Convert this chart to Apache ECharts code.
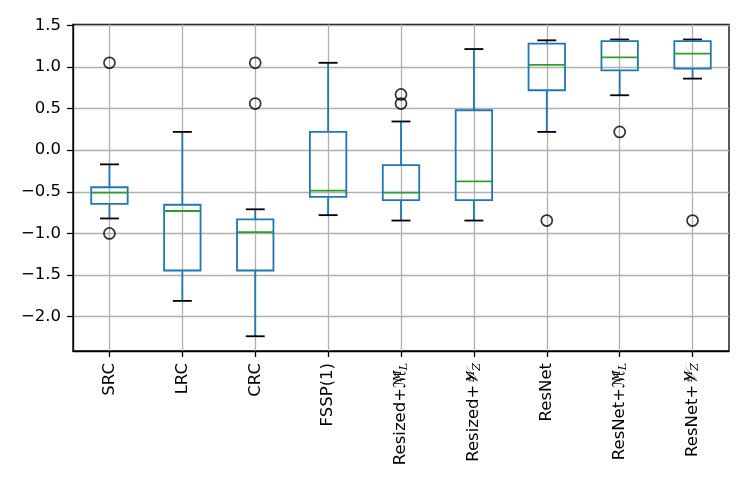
<!DOCTYPE html>
<html>
<head>
<meta charset="utf-8">
<script src="https://cdn.jsdelivr.net/npm/echarts@6/dist/echarts.min.js"></script>
<style>html,body{margin:0;padding:0;background:#fff}#c{width:747px;height:498px}</style>
</head>
<body>
<div id="c"></div>
<script>
const categories = ['SRC','LRC','CRC','FSSP(1)','Resized+ML','Resized+VZ','ResNet','ResNet+ML','ResNet+VZ'];
const tickLabels = ['SRC','LRC','CRC','FSSP(1)',
  'Resized+{s|ℳ}{sup|M}{sub|L}','Resized+{s|𝒱}{sup|M}{sub|Z}','ResNet',
  'ResNet+{s|ℳ}{sup|M}{sub|L}','ResNet+{s|𝒱}{sup|M}{sub|Z}'];
const whiskerLow  = [-0.82, -1.81, -2.235, -0.78, -0.845, -0.845, 0.22, 0.66, 0.86];
const q1          = [-0.645, -1.445, -1.445, -0.56, -0.60, -0.60, 0.72, 0.96, 0.98];
const median      = [-0.51, -0.73, -0.985, -0.485, -0.51, -0.375, 1.025, 1.115, 1.16];
const q3          = [-0.445, -0.655, -0.83, 0.22, -0.18, 0.48, 1.28, 1.31, 1.31];
const whiskerHigh = [-0.17, 0.22, -0.71, 1.05, 0.345, 1.215, 1.32, 1.33, 1.33];
const outlierCat  = [0, 0, 2, 2, 4, 4, 6, 7, 8];
const outlierVal  = [1.05, -1.0, 1.05, 0.56, 0.67, 0.56, -0.845, 0.22, -0.845];
const yTicks = [-2.0, -1.5, -1.0, -0.5, 0.0, 0.5, 1.0, 1.5];

const boxData = categories.map((c, i) => [i, whiskerLow[i], q1[i], median[i], q3[i], whiskerHigh[i]]);
const outlierData = outlierCat.map((c, i) => [c, outlierVal[i]]);

const BLUE = '#1f77b4', GREEN = '#2ca02c', LW = 1.8;
const chart = echarts.init(document.getElementById('c'));
chart.setOption({
  animation: false,
  grid: {left: 73, right: 18, top: 24.5, bottom: 147, show: true, borderColor: '#000', borderWidth: 1.3, backgroundColor: 'transparent'},
  xAxis: {
    type: 'category', data: categories, boundaryGap: true,
    axisLine: {show: true, onZero: false, lineStyle: {color: '#000', width: 1.3}},
    axisTick: {show: true, alignWithLabel: true, length: 6, lineStyle: {color: '#000', width: 1.3}},
    splitLine: {show: true, alignWithLabel: true, lineStyle: {color: '#b0b0b0', width: 1.3}},
    axisLabel: {
      interval: 0, rotate: 90, margin: 12, color: '#000', fontSize: 16.5, fontFamily: 'DejaVu Sans',
      formatter: (v, i) => tickLabels[i],
      rich: {
        s: {fontSize: 16.5, fontStyle: 'italic', fontFamily: 'DejaVu Serif, DejaVu Sans', color: '#000'},
        sup: {fontSize: 11, fontStyle: 'italic', fontFamily: 'DejaVu Serif', verticalAlign: 'top', width: 0.01, color: '#000'},
        sub: {fontSize: 11, fontStyle: 'italic', fontFamily: 'DejaVu Serif', verticalAlign: 'bottom', color: '#000'}
      }
    }
  },
  yAxis: {
    type: 'value', min: -2.412, max: 1.51, splitNumber: 8,
    axisLine: {show: true, lineStyle: {color: '#000', width: 1.3}},
    axisTick: {show: true, length: 6, customValues: yTicks, lineStyle: {color: '#000', width: 1.3}},
    splitLine: {show: true, lineStyle: {color: '#b0b0b0', width: 1.3}},
    axisLabel: {
      margin: 12, color: '#000', fontSize: 16.5, fontFamily: 'DejaVu Sans', customValues: yTicks,
      formatter: v => v.toFixed(1).replace('-', '\u2212')
    }
  },
  series: [
    {
      type: 'custom', data: boxData, encode: {x: 0, y: [1, 2, 3, 4, 5]}, z: 3,
      renderItem: (params, api) => {
        const x = api.value(0);
        const bw = api.size([1, 0])[0];
        const hb = bw * 0.25, hc = bw * 0.13;
        const lo = api.coord([x, api.value(1)]);
        const a = api.coord([x, api.value(2)]);
        const m = api.coord([x, api.value(3)]);
        const b = api.coord([x, api.value(4)]);
        const hi = api.coord([x, api.value(5)]);
        const cx = lo[0];
        const line = (x1, y1, x2, y2, color) => ({type: 'line', shape: {x1, y1, x2, y2}, style: {stroke: color, lineWidth: LW}});
        return {type: 'group', children: [
          line(cx, lo[1], cx, a[1], BLUE),
          line(cx, b[1], cx, hi[1], BLUE),
          line(cx - hc, lo[1], cx + hc, lo[1], '#000'),
          line(cx - hc, hi[1], cx + hc, hi[1], '#000'),
          {type: 'rect', shape: {x: cx - hb, y: b[1], width: 2 * hb, height: a[1] - b[1]}, style: {fill: 'none', stroke: BLUE, lineWidth: LW}},
          line(cx - hb, m[1], cx + hb, m[1], GREEN)
        ]};
      }
    },
    {
      type: 'scatter', data: outlierData, symbol: 'circle', symbolSize: 11, z: 4,
      itemStyle: {color: 'rgba(0,0,0,0)', borderColor: '#000', borderWidth: 1.7}
    }
  ]
});
</script>
</body>
</html>
